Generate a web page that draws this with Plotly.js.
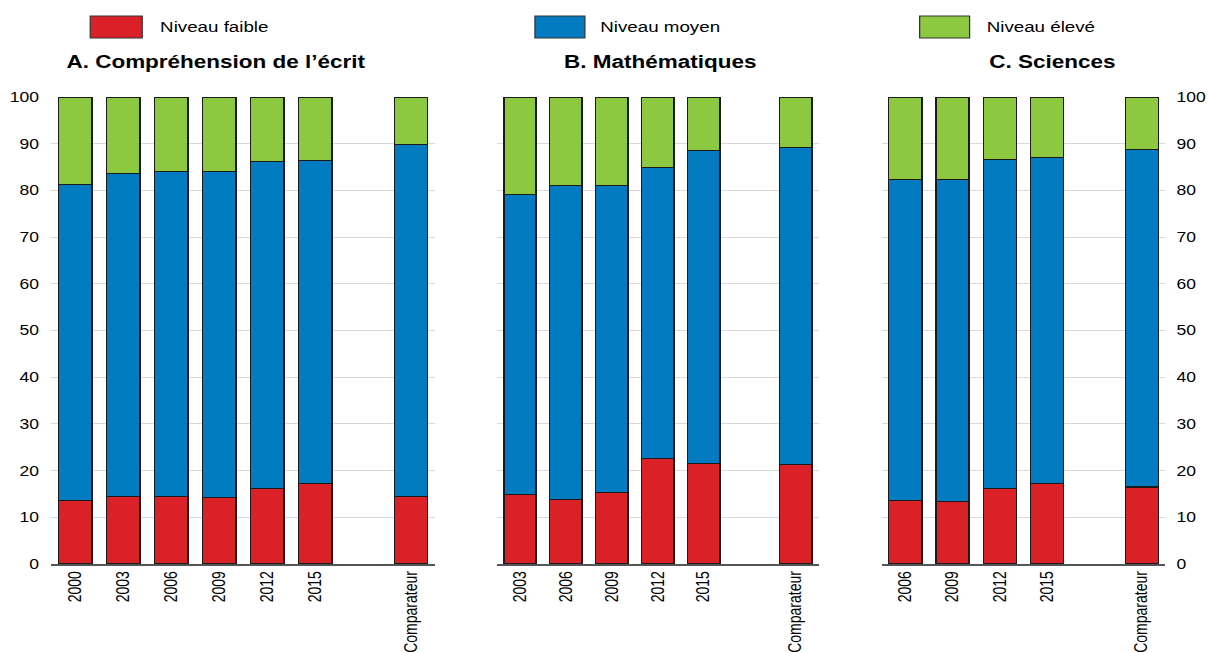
<!DOCTYPE html>
<html><head><meta charset="utf-8">
<script src="https://cdn.plot.ly/plotly-3.0.1.min.js"></script>
<style>html,body{margin:0;padding:0;background:#fff;overflow:hidden}
#chart{width:966px;height:653px;transform:scaleX(1.2505);transform-origin:0 0}</style>
</head><body><div id="chart"></div>
<script>
const seriesNames = ['Niveau faible', 'Niveau moyen', 'Niveau élevé'];
const seriesColors = ['#DA2128', '#037BC1', '#8CC840'];
const panelTitles = ['A. Compréhension de l\u2019écrit', 'B. Mathématiques', 'C. Sciences'];

const catsA = ['2000', '2003', '2006', '2009', '2012', '2015', ' ', 'Comparateur'];
const lowA  = [13.6, 14.4, 14.4, 14.2, 16.1, 17.2, null, 14.4];
const midA  = [67.7, 69.2, 69.7, 69.9, 70.0, 69.2, null, 75.4];
const highA = [18.7, 16.2, 15.9, 15.9, 13.9, 13.6, null, 10.2];

const catsB = ['2003', '2006', '2009', '2012', '2015', ' ', 'Comparateur'];
const lowB  = [14.9, 13.9, 15.4, 22.5, 21.6, null, 21.4];
const midB  = [64.3, 67.1, 65.7, 62.4, 66.9, null, 67.8];
const highB = [20.8, 19.0, 18.9, 15.1, 11.5, null, 10.6];

const catsC = ['2006', '2009', '2012', '2015', ' ', 'Comparateur'];
const lowC  = [13.6, 13.4, 16.1, 17.3, null, 16.5];
const midC  = [68.7, 68.9, 70.5, 69.7, null, 72.2];
const highC = [17.7, 17.7, 13.4, 12.8, null, 11.3];

const yTicks = [0, 10, 20, 30, 40, 50, 60, 70, 80, 90, 100];

const FONT = 'Arial, "Liberation Sans", sans-serif';
const SX = 1208 / 966;
const panels = [
  {cats: catsA, vals: [lowA, midA, highA], xa: 'x', ya: 'y'},
  {cats: catsB, vals: [lowB, midB, highB], xa: 'x2', ya: 'y2'},
  {cats: catsC, vals: [lowC, midC, highC], xa: 'x3', ya: 'y3'}
];

const traces = [];
panels.forEach(p => {
  p.vals.forEach((v, i) => {
    traces.push({
      type: 'bar', x: p.cats, y: v, name: seriesNames[i],
      xaxis: p.xa, yaxis: p.ya, width: 0.7, showlegend: false,
      cliponaxis: false,
      marker: {color: seriesColors[i], line: {color: '#1a1a1a', width: 1.1}},
      hoverinfo: 'x+y+name'
    });
  });
});

// reference-pixel constants, converted to the unstretched canvas
const W = 966, H = 653;
const L = 51 / SX, R = (1208 - 1166) / SX, T = 97, B = 89;
const pw = W - L - R, ph = H - T - B;
const px = v => (v / SX - L) / pw;
const py = v => (H - B - v) / ph;

function xax(dom, cats) {
  return {
    domain: dom, type: 'category', categoryorder: 'array', categoryarray: cats,
    range: [-0.5, cats.length - 0.5],
    tickangle: -90, tickfont: {family: FONT, size: 14, color: '#000'},
    showline: true, linecolor: '#555', linewidth: 1.5, showgrid: false,
    ticks: '', fixedrange: true, automargin: false
  };
}
function yax(anchor, side, showLabels, len) {
  return {
    anchor: anchor, range: [0, 100], tickvals: yTicks, side: side,
    showticklabels: showLabels, tickfont: {family: FONT, size: 14, color: '#000'},
    gridcolor: '#d9d9d9', gridwidth: 1, zeroline: false, showline: false,
    ticks: 'outside', ticklen: len, tickcolor: 'rgba(0,0,0,0)', fixedrange: true, automargin: false
  };
}

const annotations = [];
const shapes = [];
const titleX = [215, 661, 1053];
panelTitles.forEach((t, i) => {
  annotations.push({text: '<b>' + t + '</b>', xref: 'paper', yref: 'paper',
    x: px(titleX[i]), y: py(62), xanchor: 'center', yanchor: 'middle', showarrow: false,
    font: {family: FONT, size: 18, color: '#000'}});
});
const legBox = [[90, 142], [535, 585], [920, 970]];
const legText = [157, 598, 985];
seriesNames.forEach((n, i) => {
  shapes.push({type: 'rect', xref: 'paper', yref: 'paper',
    x0: px(legBox[i][0]), x1: px(legBox[i][1]), y0: py(38), y1: py(16),
    fillcolor: seriesColors[i], line: {color: '#333', width: 1}});
  annotations.push({text: n, xref: 'paper', yref: 'paper', x: px(legText[i]), y: py(27),
    xanchor: 'left', yanchor: 'middle', showarrow: false,
    font: {family: FONT, size: 15, color: '#000'}});
});

const layout = {
  width: W, height: H, margin: {l: L, r: R, t: T, b: B},
  paper_bgcolor: '#fff', plot_bgcolor: 'rgba(0,0,0,0)',
  barmode: 'stack', bargap: 0.3, showlegend: false,
  font: {family: FONT, color: '#000'},
  xaxis: xax([0, px(435)], catsA),
  xaxis2: xax([px(497), px(819)], catsB),
  xaxis3: xax([px(882), 1], catsC),
  yaxis: yax('x', 'left', true, 6),
  yaxis2: yax('x2', 'left', false, 6),
  yaxis3: yax('x3', 'right', true, 5),
  annotations: annotations, shapes: shapes
};

Plotly.newPlot('chart', traces, layout, {displayModeBar: false, staticPlot: true});
</script></body></html>
